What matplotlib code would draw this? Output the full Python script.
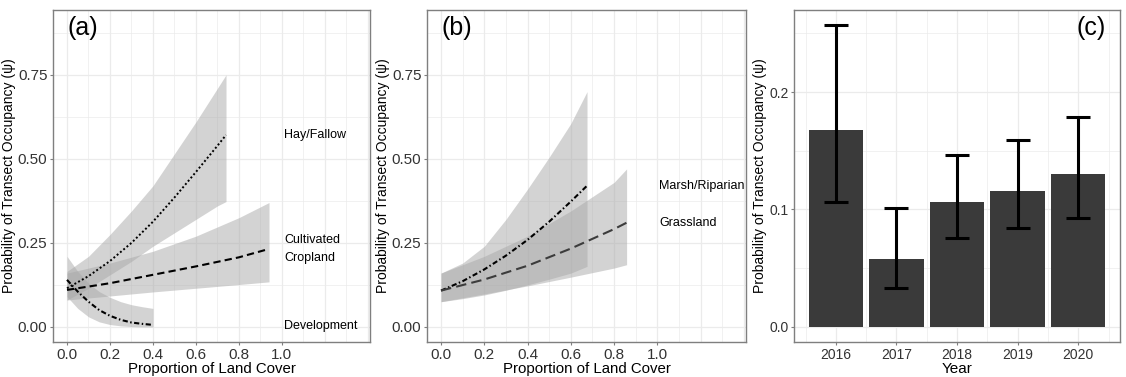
import matplotlib.pyplot as plt
import numpy as np

plt.rcParams["font.family"] = ["Liberation Sans", "DejaVu Sans"]

# ---- panel (a): land cover effects ----
hay_x = [0.0, 0.1, 0.2, 0.3, 0.4, 0.5, 0.6, 0.7, 0.74]
hay_mean = [0.115, 0.151, 0.196, 0.250, 0.313, 0.385, 0.461, 0.539, 0.571]
hay_lo = [0.080, 0.115, 0.155, 0.195, 0.240, 0.280, 0.320, 0.360, 0.373]
hay_hi = [0.165, 0.210, 0.275, 0.345, 0.420, 0.515, 0.610, 0.710, 0.750]

crop_x = [0.0, 0.2, 0.4, 0.6, 0.8, 0.94]
crop_mean = [0.110, 0.130, 0.155, 0.180, 0.207, 0.232]
crop_lo = [0.080, 0.092, 0.104, 0.115, 0.126, 0.134]
crop_hi = [0.160, 0.190, 0.225, 0.270, 0.325, 0.370]

dev_x = [0.0, 0.05, 0.1, 0.15, 0.2, 0.25, 0.3, 0.35, 0.4]
dev_mean = [0.140, 0.105, 0.075, 0.050, 0.033, 0.021, 0.013, 0.009, 0.006]
dev_lo = [0.090, 0.055, 0.030, 0.015, 0.007, 0.003, 0.001, 0.000, 0.000]
dev_hi = [0.210, 0.165, 0.130, 0.105, 0.088, 0.075, 0.066, 0.060, 0.055]

# ---- panel (b) ----
marsh_x = [0.0, 0.1, 0.2, 0.3, 0.4, 0.5, 0.6, 0.675]
marsh_mean = [0.108, 0.136, 0.171, 0.212, 0.259, 0.313, 0.373, 0.420]
marsh_lo = [0.075, 0.084, 0.095, 0.109, 0.125, 0.142, 0.160, 0.180]
marsh_hi = [0.160, 0.190, 0.240, 0.320, 0.410, 0.505, 0.605, 0.700]

grass_x = [0.0, 0.2, 0.4, 0.6, 0.8, 0.858]
grass_mean = [0.108, 0.141, 0.182, 0.233, 0.291, 0.310]
grass_lo = [0.075, 0.098, 0.122, 0.148, 0.175, 0.185]
grass_hi = [0.160, 0.210, 0.270, 0.345, 0.430, 0.470]

# ---- panel (c): yearly occupancy ----
years = ["2016", "2017", "2018", "2019", "2020"]
psi = [0.168, 0.058, 0.106, 0.116, 0.130]
psi_lo = [0.106, 0.033, 0.076, 0.084, 0.093]
psi_hi = [0.257, 0.101, 0.146, 0.159, 0.179]

YLAB = "Probability of Transect Occupancy (\u03c8)"
FRAME = "#7f7f7f"
GRID = "#ebebeb"
TXT = "#333333"
BAND = "#a8a8a8"

DOTTED = (0, (1, 1.2))
DASHED = (0, (3.5, 2))
DOTDASH = (0, (2.5, 1.2, 0.7, 1.2))
LONGDASH = (0, (5, 2.5))

fig = plt.figure(figsize=(11.26, 3.77), dpi=100)
ax_a = fig.add_axes([0.0471, 0.0928, 0.2815, 0.8807])
ax_b = fig.add_axes([0.3792, 0.0928, 0.2833, 0.8807])
ax_c = fig.add_axes([0.7052, 0.0928, 0.2895, 0.8807])


def style(ax, size):
    for s in ax.spines.values():
        s.set_color(FRAME)
        s.set_linewidth(1.0)
    ax.tick_params(colors=FRAME, labelcolor=TXT, labelsize=size, length=2.5,
                   width=0.8, pad=1.5)
    ax.set_axisbelow(True)


def land_panel(ax, label):
    style(ax, 11)
    ax.set_xlim(-0.065, 1.41)
    ax.set_ylim(-0.045, 0.943)
    for v in np.arange(0, 1.45, 0.1):
        ax.axvline(v, color=GRID, lw=0.9 if round(v * 10) % 2 == 0 else 0.5, zorder=0)
    for v in np.arange(0, 0.95, 0.125):
        ax.axhline(v, color=GRID, lw=0.9 if round(v * 8) % 2 == 0 else 0.5, zorder=0)
    ax.set_xticks([0, 0.2, 0.4, 0.6, 0.8, 1.0])
    ax.set_xticklabels(["0.0", "0.2", "0.4", "0.6", "0.8", "1.0"])
    ax.set_yticks([0, 0.25, 0.5, 0.75])
    ax.set_yticklabels(["0.00", "0.25", "0.50", "0.75"])
    ax.set_xlabel("Proportion of Land Cover", fontsize=10.8, color="black", labelpad=0)
    ax.set_ylabel(YLAB, fontsize=10, color="black", labelpad=1.5)
    ax.text(0.0, 0.89, label, fontsize=18, va="center", ha="left")


# panel (a)
land_panel(ax_a, "(a)")
ax_a.fill_between(hay_x, hay_lo, hay_hi, color=BAND, alpha=0.5, lw=0)
ax_a.fill_between(crop_x, crop_lo, crop_hi, color=BAND, alpha=0.5, lw=0)
ax_a.fill_between(dev_x, dev_lo, dev_hi, color=BAND, alpha=0.5, lw=0)
ax_a.plot(hay_x, hay_mean, color="black", lw=1.4, ls=DOTTED)
ax_a.plot(crop_x, crop_mean, color="black", lw=1.5, ls=DASHED)
ax_a.plot(dev_x, dev_mean, color="black", lw=1.5, ls=DOTDASH)
ax_a.text(1.01, hay_mean[-1], "Hay/Fallow", fontsize=9, va="center")
ax_a.text(1.01, crop_mean[-1], "Cultivated\nCropland", fontsize=9, va="center",
          linespacing=1.75)
ax_a.text(1.01, 0.003, "Development", fontsize=9, va="center")

# panel (b)
land_panel(ax_b, "(b)")
ax_b.fill_between(marsh_x, marsh_lo, marsh_hi, color=BAND, alpha=0.5, lw=0)
ax_b.fill_between(grass_x, grass_lo, grass_hi, color=BAND, alpha=0.5, lw=0)
ax_b.plot(marsh_x, marsh_mean, color="black", lw=1.5, ls=DOTDASH)
ax_b.plot(grass_x, grass_mean, color="#3c3c3c", lw=1.5, ls=LONGDASH)
ax_b.text(1.01, marsh_mean[-1], "Marsh/Riparian", fontsize=9, va="center")
ax_b.text(1.01, grass_mean[-1], "Grassland", fontsize=9, va="center")

# panel (c)
style(ax_c, 10)
pos = np.arange(1, len(years) + 1)
for v in np.arange(0.5, 6.0, 0.5):
    ax_c.axvline(v, color=GRID, lw=0.9 if v % 1 == 0 else 0.5, zorder=0)
for v in np.arange(0, 0.3, 0.05):
    ax_c.axhline(v, color=GRID, lw=0.9 if round(v * 20) % 2 == 0 else 0.5, zorder=0)
ax_c.bar(pos, psi, width=0.9, color="#3a3a3a", zorder=2)
err = [np.array(psi) - np.array(psi_lo), np.array(psi_hi) - np.array(psi)]
ax_c.errorbar(pos, psi, yerr=err, fmt="none", ecolor="black", elinewidth=2.2,
              capsize=8.5, capthick=2.2, zorder=3)
ax_c.set_xlim(0.31, 5.69)
ax_c.set_ylim(-0.013, 0.27)
ax_c.set_xticks(pos)
ax_c.set_xticklabels(years)
ax_c.set_yticks([0, 0.1, 0.2])
ax_c.set_yticklabels(["0.0", "0.1", "0.2"])
ax_c.set_xlabel("Year", fontsize=11, color="black", labelpad=0)
ax_c.set_ylabel(YLAB, fontsize=10, color="black", labelpad=1.5)
ax_c.text(5.21, 0.2545, "(c)", fontsize=18, va="center", ha="center")

fig.savefig("out.png", dpi=100, facecolor="white")
